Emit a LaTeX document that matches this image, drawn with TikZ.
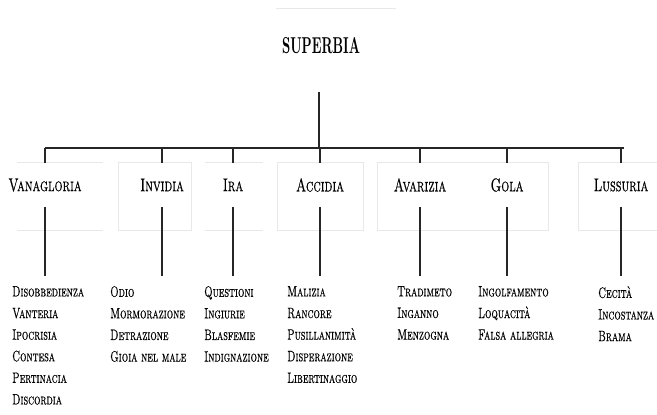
\documentclass[tikz,border=0pt]{standalone}
\usepackage{fontspec}
\setmainfont{lmroman10-regular.otf}[
  BoldFont=lmroman10-bold.otf,
  SmallCapsFont=lmromancaps10-regular.otf,
  UprightFeatures={FakeBold=0.4},
  SmallCapsFeatures={FakeBold=0.55}]
\newcommand\cnd[1]{\scalebox{0.67}[1]{\textsc{#1}}}
\newcommand\cat[1]{\scalebox{0.68}[1]{\textsc{#1}}}
\begin{document}
\begin{tikzpicture}[x=1pt,y=-1pt,
  catnode/.style={inner sep=0pt,minimum height=44pt,font=\fontsize{18.5}{20}\selectfont},
  listnode/.style={anchor=north west,inner xsep=0pt,inner ysep=10pt,align=left,font=\fontsize{15}{21.6}\selectfont},
  conn/.style={line width=1.5pt,black!85},
  bar/.style={line width=2.2pt,black!85},
  ghost/.style={draw=black!9,line width=0.6pt}]
\useasboundingbox[fill=white] (0,0) rectangle (657,415);
% faint artefacts
\draw[ghost] (276,8) -- (396,8);
\draw[ghost] (17,162) -- (103,162) (17,230) -- (103,230);
\draw[ghost] (118,162) rectangle (191,230);
\draw[ghost] (205,162) -- (263,162) (205,230) -- (263,230);
\draw[ghost] (277,162) rectangle (363,230);
\draw[ghost] (377,162) rectangle (548,230);
\draw[ghost] (578,162) rectangle (657,230);
% root
\node[font=\fontsize{23}{25}\selectfont\bfseries] (s) at (321,46) {\scalebox{0.56}[1]{SUPERBIA}};
\coordinate (stop) at (319,92);
\coordinate (bar) at (319,148);
% categories
\node[catnode] (c1) at (45,185) {\cat{Vanagloria}};
\node[catnode] (c2) at (162,185) {\cat{Invidia}};
\node[catnode] (c3) at (233,185) {\cat{Ira}};
\node[catnode] (c4) at (320,185) {\cat{Accidia}};
\node[catnode] (c5) at (420,185) {\cat{Avarizia}};
\node[catnode] (c6) at (507,185) {\cat{Gola}};
\node[catnode] (c7) at (621,185) {\cat{Lussuria}};
% lists
\node[listnode] (l1) at (12,276) {\cnd{Disobbedienza}\\\cnd{Vanteria}\\\cnd{Ipocrisia}\\\cnd{Contesa}\\\cnd{Pertinacia}\\\cnd{Discordia}};
\node[listnode] (l2) at (110,276) {\cnd{Odio}\\\cnd{Mormorazione}\\\cnd{Detrazione}\\\cnd{Gioia nel male}};
\node[listnode] (l3) at (204,276) {\cnd{Questioni}\\\cnd{Ingiurie}\\\cnd{Blasfemie}\\\cnd{Indignazione}};
\node[listnode] (l4) at (287,276) {\cnd{Malizia}\\\cnd{Rancore}\\\cnd{Pusillanimità}\\\cnd{Disperazione}\\\cnd{Libertinaggio}};
\node[listnode] (l5) at (397,276) {\cnd{Tradimeto}\\\cnd{Inganno}\\\cnd{Menzogna}};
\node[listnode] (l6) at (478,276) {\cnd{Ingolfamento}\\\cnd{Loquacità}\\\cnd{Falsa allegria}};
\node[listnode] (l7) at (598,276) {\cnd{Cecità}\\\cnd{Incostanza}\\\cnd{Brama}};
% connectors
\draw[conn] (stop) -- (bar);
\draw[bar] (c1.north |- bar) -- (624,148);
\foreach \i in {1,...,7}{
  \draw[conn] (c\i.north |- bar) -- (c\i.north);
  \draw[conn] (c\i.south) -- (c\i.south |- l\i.north);
}
\end{tikzpicture}
\end{document}
